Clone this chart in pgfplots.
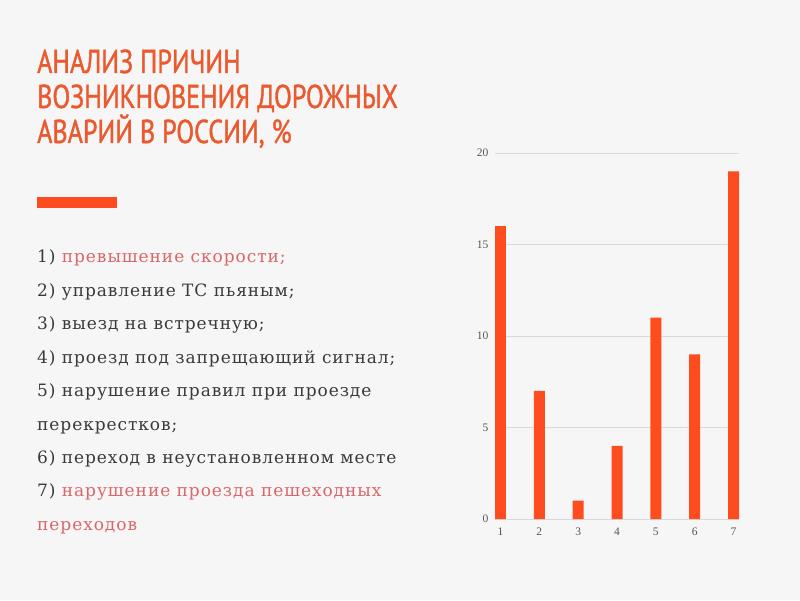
\documentclass[border=0pt]{standalone}
\usepackage{pgfplots}
\pgfplotsset{compat=1.18}
\usepackage{fontspec}
\setmainfont{Liberation Serif}
\newfontfamily\listfont[LetterSpace=5.5]{DejaVu Serif}
\newfontfamily\titlefont[FakeStretch=0.79, FakeBold=1.2]{PT Sans}
\definecolor{bg}{HTML}{F6F6F6}
\definecolor{titlecol}{HTML}{EA5A2E}
\definecolor{barcol}{HTML}{FF4C1E}
\definecolor{redtext}{HTML}{D9676A}
\definecolor{bodytext}{HTML}{3A3A3A}
\definecolor{ticktext}{HTML}{555555}
\begin{document}
\begin{tikzpicture}[x=1pt,y=1pt]
\fill[bg] (0,0) rectangle (800,600);
\begin{scope}[every node/.style={anchor=base west, inner sep=0pt, text=titlecol, font=\titlefont\fontsize{33}{35}\selectfont}]
\node at (37,527) {АНАЛИЗ ПРИЧИН};
\node at (37,492) {ВОЗНИКНОВЕНИЯ ДОРОЖНЫХ};
\node at (37,457) {АВАРИЙ В РОССИИ, \%};
\end{scope}
\fill[barcol] (37,392) rectangle (117,403);
\begin{scope}[every node/.style={anchor=base west, inner sep=0pt, text=bodytext, font=\listfont\fontsize{17}{20}\selectfont}]
\node at (37,337) {1) \textcolor{redtext}{превышение скорости;}};
\node at (37,303.6) {2) управление ТС пьяным;};
\node at (37,270.2) {3) выезд на встречную;};
\node at (37,236.8) {4) проезд под запрещающий сигнал;};
\node at (37,203.4) {5) нарушение правил при проезде};
\node at (37,170) {перекрестков;};
\node at (37,136.6) {6) переход в неустановленном месте};
\node at (37,103.2) {7) \textcolor{redtext}{нарушение проезда пешеходных}};
\node at (37,69.8) {\textcolor{redtext}{переходов}};
\end{scope}
\begin{axis}[
  at={(495pt,81pt)}, anchor=south west,
  scale only axis, width=244pt, height=366pt,
  xmin=0.86, xmax=7.14, ymin=0, ymax=20,
  xtick={1,...,7}, ytick={0,5,10,15,20},
  axis line style={draw=none},
  major tick style={draw=none},
  ymajorgrids, grid style={draw=black!15, line width=0.8pt},
  ticklabel style={font=\fontsize{11.5}{13}\selectfont, text=ticktext},
  /pgf/number format/assume math mode=true,
  yticklabel style={xshift=-3pt},
  xticklabel style={yshift=-1pt},
  ybar, bar width=11pt,
]
\addplot[fill=barcol, draw=none] coordinates {(1,16) (2,7) (3,1) (4,4) (5,11) (6,9) (7,19)};
\end{axis}
\end{tikzpicture}
\end{document}
